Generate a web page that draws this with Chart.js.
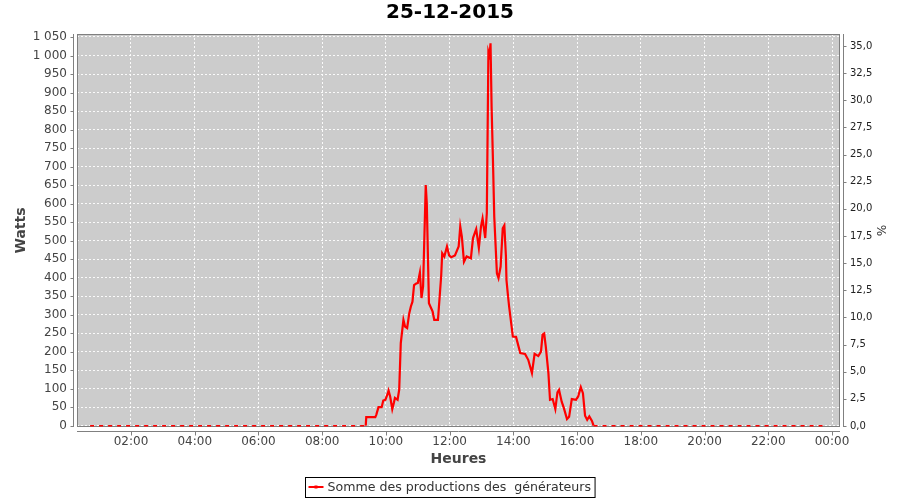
<!DOCTYPE html>
<html lang="fr">
<head>
<meta charset="utf-8">
<title>25-12-2015</title>
<script src="https://cdn.jsdelivr.net/npm/chart.js@4"></script>
<style>
  html, body { margin: 0; padding: 0; background: #fff; }
</style>
</head>
<body>
<canvas id="chart" width="900" height="500"></canvas>
<script>
// ==================== DONNEES ====================
const heures = ['00:43', '09:22', '09:23', '09:40', '09:42', '09:46', '09:52', '09:55', '09:59', '10:03',
    '10:05', '10:08', '10:12', '10:15', '10:17', '10:22', '10:25', '10:28', '10:33', '10:36',
    '10:40', '10:44', '10:47', '10:50', '10:53', '10:57', '11:00', '11:04', '11:07', '11:10',
    '11:15', '11:17', '11:21', '11:28', '11:31', '11:38', '11:44', '11:46', '11:50', '11:55',
    '11:59', '12:03', '12:10', '12:17', '12:20', '12:23', '12:27', '12:32', '12:40', '12:44',
    '12:50', '12:55', '12:59', '13:02', '13:07', '13:10', '13:13', '13:15', '13:17', '13:19',
    '13:22', '13:24', '13:29', '13:32', '13:36', '13:40', '13:43', '13:46', '13:47', '13:50',
    '13:52', '13:59', '14:05', '14:13', '14:22', '14:28', '14:35', '14:40', '14:47', '14:52',
    '14:55', '14:58', '15:01', '15:06', '15:09', '15:14', '15:19', '15:23', '15:26', '15:31',
    '15:35', '15:41', '15:45', '15:50', '15:58', '16:02', '16:07', '16:11', '16:15', '16:19',
    '16:23', '16:28', '16:31', '23:47'];
const watts = [0, 0, 23, 23, 30, 50, 50, 68, 70, 85,
    95, 79, 45, 62, 75, 70, 97, 223, 286, 268,
    264, 304, 322, 335, 380, 384, 385, 414, 345, 376,
    650, 600, 331, 308, 286, 286, 403, 466, 457, 484,
    460, 455, 460, 484, 538, 511, 443, 457, 452, 507,
    531, 480, 538, 560, 507, 574, 1010, 1000, 1033, 862,
    691, 565, 412, 399, 430, 533, 541, 457, 394, 349,
    322, 241, 240, 196, 194, 178, 142, 194, 188, 200,
    246, 249, 214, 142, 70, 72, 45, 90, 97, 65,
    48, 18, 24, 72, 70, 79, 104, 88, 27, 16,
    25, 13, 0, 0];

const ticksHeures = [2, 4, 6, 8, 10, 12, 14, 16, 18, 20, 22, 24];
const ticksWatts = [0, 50, 100, 150, 200, 250, 300, 350, 400, 450, 500, 550,
    600, 650, 700, 750, 800, 850, 900, 950, 1000, 1050];
const ticksPourcent = [0, 2.5, 5, 7.5, 10, 12.5, 15, 17.5, 20, 22.5, 25, 27.5, 30, 32.5, 35];

const serieLabel = 'Somme des productions des  générateurs';

// ==================== CONFIG ====================
const police = "'DejaVu Sans', sans-serif";
Chart.defaults.font.family = police;

function enHeures(hhmm) {
    const [h, m] = hhmm.split(':').map(Number);
    return h + m / 60;
}
function deuxChiffres(n) { return (n < 10 ? '0' : '') + n; }

const points = heures.map((h, i) => ({ x: enHeures(h), y: watts[i] }));

const estZero = c => c.p0.parsed.y === 0 && c.p1.parsed.y === 0;

// fond du graphe, cadre, axes decales et legende encadree
const cadrePlugin = {
    id: 'cadre',
    beforeDraw(chart) {
        const { ctx, chartArea: a } = chart;
        ctx.save();
        ctx.fillStyle = '#cccccc';
        ctx.fillRect(a.left, a.top, a.right - a.left, a.bottom - a.top);
        ctx.restore();
    },
    beforeDatasetsDraw(chart) {
        const { ctx, chartArea: a } = chart;
        ctx.save();
        ctx.strokeStyle = '#808080';
        ctx.lineWidth = 1;
        ctx.strokeRect(a.left + 0.5, a.top + 0.5, a.right - a.left - 1, a.bottom - a.top - 1);
        ctx.restore();
    },
    afterDraw(chart) {
        const { ctx, chartArea: a, scales } = chart;
        ctx.save();
        ctx.strokeStyle = '#808080';
        ctx.lineWidth = 1;
        ctx.beginPath();
        // axe gauche
        const xl = a.left - 3.5;
        ctx.moveTo(xl, a.top); ctx.lineTo(xl, a.bottom);
        scales.y.ticks.forEach(t => {
            const py = Math.round(scales.y.getPixelForValue(t.value)) + 0.5;
            ctx.moveTo(xl - 3, py); ctx.lineTo(xl, py);
        });
        // axe bas
        const yb = a.bottom + 4.5;
        ctx.moveTo(a.left, yb); ctx.lineTo(a.right, yb);
        scales.x.ticks.forEach(t => {
            const px = Math.round(scales.x.getPixelForValue(t.value)) + 0.5;
            ctx.moveTo(px, yb); ctx.lineTo(px, yb + 4);
        });
        // axe droit
        const xr = a.right + 3.5;
        ctx.moveTo(xr, a.top); ctx.lineTo(xr, a.bottom);
        scales.y1.ticks.forEach(t => {
            const py = Math.round(scales.y1.getPixelForValue(t.value)) + 0.5;
            ctx.moveTo(xr, py); ctx.lineTo(xr + 3, py);
        });
        ctx.stroke();

        // legende
        ctx.font = '12.6px ' + police;
        const label = chart.data.datasets[0].label;
        const tw = ctx.measureText(label).width;
        const boxW = 22 + tw + 4;
        const bx = Math.round((chart.width - boxW) / 2) + 0.5;
        const by = 477.5;
        ctx.strokeStyle = '#000';
        ctx.strokeRect(bx, by, boxW, 20);
        ctx.strokeStyle = '#ff0000';
        ctx.lineWidth = 2;
        ctx.beginPath();
        ctx.moveTo(bx + 3, by + 9.5); ctx.lineTo(bx + 18, by + 9.5);
        ctx.stroke();
        ctx.fillStyle = '#ff0000';
        ctx.fillRect(bx + 9, by + 8, 3, 3);
        ctx.fillStyle = '#333';
        ctx.textBaseline = 'middle';
        ctx.fillText(label, bx + 22, by + 10);
        ctx.restore();
    }
};

const ctx = document.getElementById('chart').getContext('2d');
const chart = new Chart(ctx, {
    type: 'line',
    data: {
        datasets: [{
            label: serieLabel,
            data: points,
            borderColor: '#ff0000',
            backgroundColor: '#ff0000',
            borderWidth: 2.2,
            pointRadius: 0,
            tension: 0,
            xAxisID: 'x',
            yAxisID: 'y',
            segment: {
                borderDash: c => estZero(c) ? [4, 5] : undefined,
                borderWidth: c => estZero(c) ? 1.6 : undefined
            }
        }]
    },
    options: {
        responsive: false,
        animation: false,
        layout: { padding: { top: 0, left: 0, right: 0, bottom: 28 } },
        plugins: {
            legend: { display: false },
            tooltip: { enabled: false },
            title: {
                display: true,
                text: '25-12-2015',
                color: '#000',
                font: { family: police, size: 20, weight: 'bold' },
                padding: { top: 1, bottom: 9 }
            }
        },
        scales: {
            x: {
                type: 'linear',
                position: 'bottom',
                min: 0.3053,
                max: 24.251,
                bounds: 'data',
                afterBuildTicks: s => { s.ticks = ticksHeures.map(v => ({ value: v })); },
                afterFit: s => { s.height = 45; },
                ticks: {
                    autoSkip: false, maxRotation: 0, padding: 8,
                    color: '#444', font: { size: 12 },
                    callback: v => deuxChiffres(v % 24) + ':00'
                },
                grid: { color: 'rgba(255,255,255,0.9)', lineWidth: 1, drawTicks: false },
                border: { display: false, dash: [2, 2] },
                title: {
                    display: true, text: 'Heures', color: '#444',
                    font: { size: 14, weight: 'bold' },
                    padding: { top: 0, bottom: 4 }
                }
            },
            y: {
                type: 'linear',
                position: 'left',
                min: -3.5,
                max: 1058.1,
                bounds: 'data',
                afterBuildTicks: s => { s.ticks = ticksWatts.map(v => ({ value: v })); },
                afterFit: s => { s.width = 77; },
                ticks: {
                    autoSkip: false, padding: 10,
                    color: '#444', font: { size: 12 },
                    callback: v => String(v).replace(/\B(?=(\d{3})+(?!\d))/g, ' ')
                },
                grid: { color: 'rgba(255,255,255,0.9)', lineWidth: 1, drawTicks: false },
                border: { display: false, dash: [2, 2] },
                title: {
                    display: true, text: 'Watts', color: '#444',
                    font: { size: 14, weight: 'bold' },
                    padding: { top: 13, bottom: 0 }
                }
            },
            y1: {
                type: 'linear',
                position: 'right',
                min: -0.092,
                max: 36.105,
                bounds: 'data',
                afterBuildTicks: s => { s.ticks = ticksPourcent.map(v => ({ value: v })); },
                afterFit: s => { s.width = 60; },
                ticks: {
                    autoSkip: false, padding: 10,
                    color: '#222', font: { size: 10 },
                    callback: v => v.toFixed(1).replace('.', ',')
                },
                grid: { display: false, drawTicks: false },
                border: { display: false },
                title: {
                    display: true, text: '%', color: '#333',
                    font: { size: 12 },
                    padding: { top: 13, bottom: 0 }
                }
            }
        }
    },
    plugins: [cadrePlugin]
});
</script>
</body>
</html>
